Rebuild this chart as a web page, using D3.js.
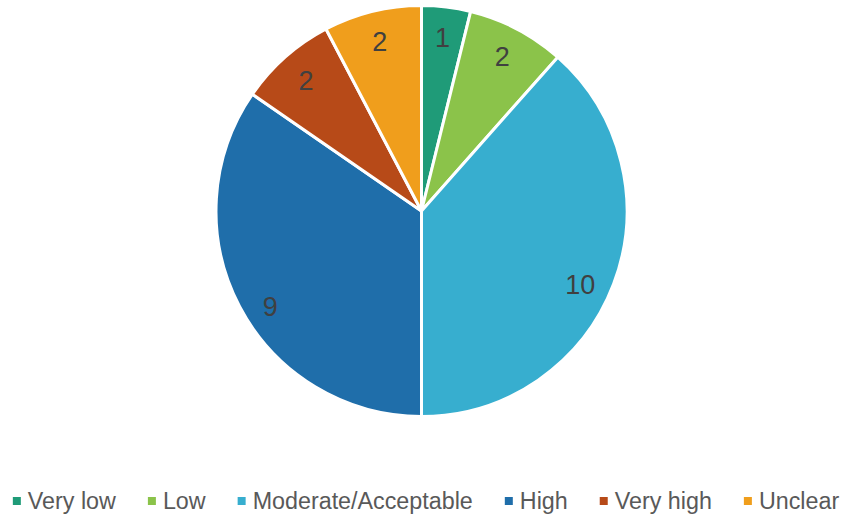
<!DOCTYPE html>
<html>
<head>
<meta charset="utf-8">
<script src="https://cdn.jsdelivr.net/npm/d3@7"></script>
<style>
  html, body { margin: 0; padding: 0; background: #fff; }
  svg { display: block; font-family: "Liberation Sans", Arial, sans-serif; }
</style>
</head>
<body>
<svg id="chart" width="846" height="515"></svg>
<script>
// Risk rating counts
const categories = ["Very low", "Low", "Moderate/Acceptable", "High", "Very high", "Unclear"];
const counts = [1, 2, 10, 9, 2, 2];
const colors = ["#1f9b78", "#8bc34a", "#37aecf", "#1f6eaa", "#b74a18", "#f09e1c"];

// Excel-style "best fit" label nudges (degrees) for the large slices
const labelAngleNudge = [0, 0, 4.2, -4.6, 0, 0];
const labelRadius = [174, 174, 175, 179, 174, 174];

const width = 846, height = 515;
const cx = 421.5, cy = 211, radius = 205.5;

const svg = d3.select("#chart");
const data = categories.map((c, i) => ({ name: c, value: counts[i], color: colors[i], i }));

const pie = d3.pie().value(d => d.value).sort(null);
const arcs = pie(data);
const arc = d3.arc().innerRadius(0).outerRadius(radius);

const g = svg.append("g").attr("transform", `translate(${cx},${cy})`);

g.selectAll("path.slice")
  .data(arcs)
  .join("path")
  .attr("class", "slice")
  .attr("d", arc)
  .attr("fill", d => d.data.color)
  .attr("stroke", "#fff")
  .attr("stroke-width", 3)
  .attr("stroke-linejoin", "round");

g.selectAll("text.value")
  .data(arcs)
  .join("text")
  .attr("class", "value")
  .attr("transform", d => {
    const a = (d.startAngle + d.endAngle) / 2 + labelAngleNudge[d.data.i] * Math.PI / 180;
    const r = labelRadius[d.data.i];
    return `translate(${r * Math.sin(a)},${-r * Math.cos(a)})`;
  })
  .attr("text-anchor", "middle")
  .attr("dominant-baseline", "central")
  .attr("font-size", 27)
  .attr("fill", "#404040")
  .text(d => d.data.value);

// Legend along the bottom
const legend = svg.append("g").attr("transform", `translate(0,501)`);
const items = legend.selectAll("g.item")
  .data(data)
  .join("g")
  .attr("class", "item");

items.append("rect")
  .attr("width", 8).attr("height", 8)
  .attr("y", -4)
  .attr("fill", d => d.color);

items.append("text")
  .attr("x", 15)
  .attr("dominant-baseline", "central")
  .attr("font-size", 23.3)
  .attr("fill", "#595959")
  .text(d => d.name);

const gap = 32;
const widths = [];
items.each(function () {
  widths.push(15 + d3.select(this).select("text").node().getComputedTextLength());
});
const total = d3.sum(widths) + gap * (widths.length - 1);
let x = (width - total) / 2 + 3;
items.attr("transform", (d, i) => {
  const t = `translate(${x},0)`;
  x += widths[i] + gap;
  return t;
});
</script>
</body>
</html>
